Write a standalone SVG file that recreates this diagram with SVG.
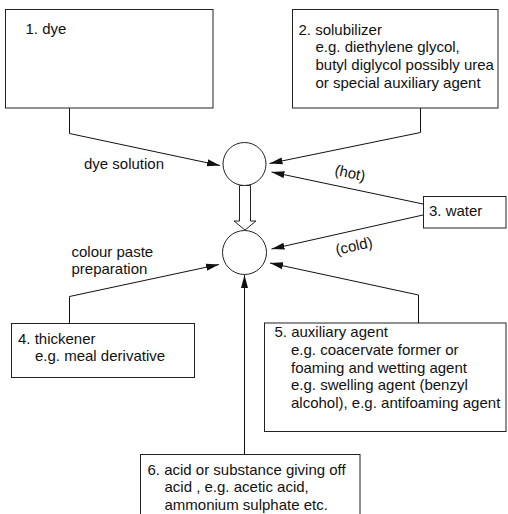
<svg xmlns="http://www.w3.org/2000/svg" width="508" height="514" viewBox="0 0 508 514">
  <defs>
    <style>
      .box { fill: #fff; stroke: #222; stroke-width: 1; }
      .mix { fill: #fff; stroke: #222; stroke-width: 1; }
      .line { fill: none; stroke: #111; stroke-width: 1; }
      text { font-family: "Liberation Sans", Arial, sans-serif; font-size: 15px; fill: #111; }
    </style>
    <marker id="arrow" markerUnits="userSpaceOnUse" markerWidth="14" markerHeight="8" refX="13" refY="4" orient="auto">
      <path d="M0,0.5 L13,4 L0,7.5 z" fill="#111"/>
    </marker>
  </defs>

  <rect width="508" height="514" fill="#fff"/>

  <!-- connectors -->
  <g id="connectors">
    <polyline class="line" points="69.5,108 69.5,133.5 220,165.5" marker-end="url(#arrow)"/>
    <polyline class="line" points="420.5,108 420.5,132.5 269.5,163.5" marker-end="url(#arrow)"/>
    <line class="line" x1="423" y1="204" x2="271.5" y2="172" marker-end="url(#arrow)"/>
    <line class="line" x1="423" y1="215" x2="271.5" y2="249" marker-end="url(#arrow)"/>
    <polyline class="line" points="69.5,323 69.5,296.5 219,264.5" marker-end="url(#arrow)"/>
    <polyline class="line" points="418.5,323 418.5,295 270,263" marker-end="url(#arrow)"/>
    <line class="line" x1="244.5" y1="454" x2="244.5" y2="275" marker-end="url(#arrow)"/>
    <!-- hollow transfer arrow between the two mixing vessels -->
    <polygon class="mix" points="239.5,185.5 250.5,185.5 250.5,221 256,221 245,230 234,221 239.5,221"/>
  </g>

  <!-- mixing vessels -->
  <g id="mix-solution">
    <circle class="mix" cx="244.5" cy="164" r="21.5"/>
  </g>
  <g id="mix-paste">
    <circle class="mix" cx="244.5" cy="252.5" r="22"/>
  </g>

  <!-- connector labels -->
  <g id="labels">
    <text x="84" y="168.5">dye solution</text>
    <text x="349" y="178" text-anchor="middle" transform="rotate(12 349 178)">(hot)</text>
    <text x="355" y="251" text-anchor="middle" transform="rotate(-12.5 355 251)">(cold)</text>
    <text x="71.5" y="256.5">colour paste</text>
    <text x="71.5" y="273.5">preparation</text>
  </g>

  <!-- ingredient boxes -->
  <g id="dye">
    <rect class="box" x="5.5" y="9.5" width="207.5" height="98.5"/>
    <text x="25.5" y="33.5">1. dye</text>
  </g>

  <g id="solubilizer">
    <rect class="box" x="292.5" y="9.5" width="205.5" height="98.5"/>
    <text x="298.5" y="34.5">2. solubilizer</text>
    <text x="315.5" y="52.2">e.g. diethylene glycol,</text>
    <text x="315.5" y="69.9">butyl diglycol possibly urea</text>
    <text x="315.5" y="87.6">or special auxiliary agent</text>
  </g>

  <g id="water">
    <rect class="box" x="423.5" y="196.5" width="82.5" height="31.5"/>
    <text x="429" y="215.5">3. water</text>
  </g>

  <g id="thickener">
    <rect class="box" x="11.5" y="323.5" width="183" height="54"/>
    <text x="18" y="343.5">4. thickener</text>
    <text x="35" y="361">e.g. meal derivative</text>
  </g>

  <g id="auxiliary-agent">
    <rect class="box" x="264.5" y="323" width="241.5" height="108.5"/>
    <text x="274.5" y="337">5. auxiliary agent</text>
    <text x="291" y="354.8">e.g. coacervate former or</text>
    <text x="291" y="372.6">foaming and wetting agent</text>
    <text x="291" y="390.4">e.g. swelling agent (benzyl</text>
    <text x="291" y="408.2">alcohol), e.g. antifoaming agent</text>
  </g>

  <g id="acid">
    <rect class="box" x="140.5" y="454.5" width="219.5" height="70"/>
    <text x="147.5" y="474.5">6. acid or substance giving off</text>
    <text x="164.5" y="492.3">acid , e.g. acetic acid,</text>
    <text x="164.5" y="510">ammonium sulphate etc.</text>
  </g>
</svg>
